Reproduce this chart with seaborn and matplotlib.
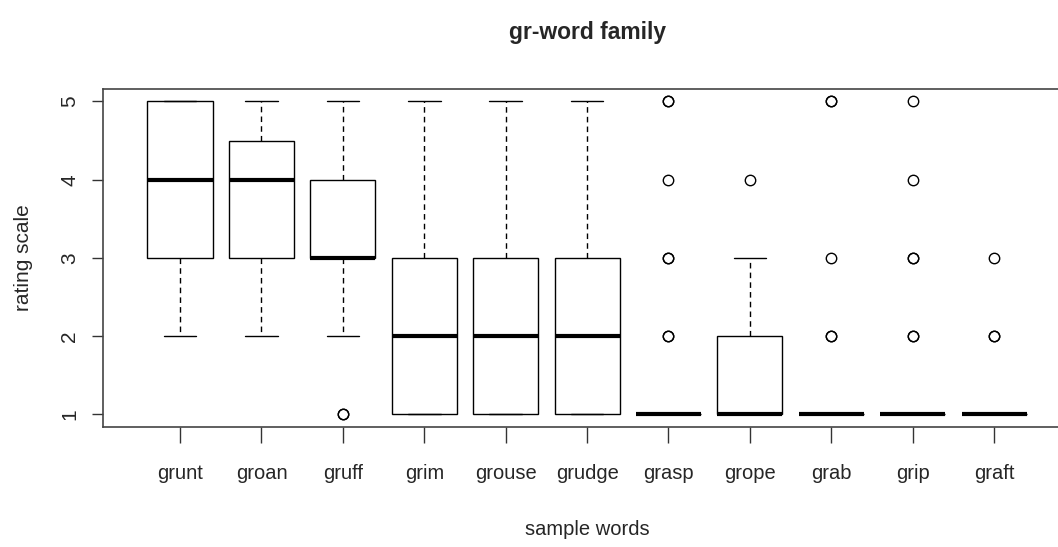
import pandas as pd
import numpy as np
import matplotlib
matplotlib.use('Agg')
import matplotlib.pyplot as plt
import seaborn as sns

words = ['grunt', 'groan', 'gruff', 'grim', 'grouse', 'grudge',
         'grasp', 'grope', 'grab', 'grip', 'graft']
grunt = [2, 3, 3, 4, 4, 4, 5, 5, 5]
groan = [2, 3, 3, 3, 4, 4, 4, 4, 5, 5, 5]
gruff = [1, 1, 2, 3, 3, 3, 3, 3, 3, 4, 4, 5, 5]
grim = [1, 1, 1, 1, 2, 2, 2, 3, 3, 4, 5]
grouse = [1, 1, 1, 1, 2, 2, 2, 3, 3, 4, 5]
grudge = [1, 1, 1, 1, 2, 2, 2, 3, 3, 4, 5]
grasp = [1] * 24 + [2, 2, 3, 3, 4, 5, 5]
grope = [1, 1, 1, 1, 1, 1, 1, 2, 2, 3, 4]
grab = [1] * 20 + [2, 2, 3, 5, 5]
grip = [1] * 20 + [2, 2, 3, 3, 4, 5]
graft = [1] * 16 + [2, 2, 3]

ratings = [grunt, groan, gruff, grim, grouse, grudge,
           grasp, grope, grab, grip, graft]

df = pd.DataFrame({
    'word': np.repeat(words, [len(r) for r in ratings]),
    'rating': np.concatenate(ratings),
})

sns.set_style('white')
plt.rcParams['font.family'] = ['Liberation Sans', 'DejaVu Sans']

fig = plt.figure(figsize=(10.58, 5.47), dpi=100)
ax = fig.add_axes([0.0974, 0.2194, 0.915, 0.618])

sns.boxplot(data=df, x='word', y='rating', order=words, ax=ax,
            width=0.8, color='white', linecolor='black', linewidth=1.0,
            whis=1.5,
            medianprops=dict(linewidth=3.0, color='black'),
            whiskerprops=dict(linestyle=(0, (4, 3)), linewidth=1.0),
            capprops=dict(linewidth=1.0),
            flierprops=dict(marker='o', markersize=7.5, markerfacecolor='none',
                            markeredgecolor='black', markeredgewidth=1.0))

ax.set_xlim(-0.946, 10.946)
ax.set_ylim(0.84, 5.16)
ax.set_yticks([1, 2, 3, 4, 5])
ax.set_yticklabels(['1', '2', '3', '4', '5'], rotation=90, va='center',
                   fontsize=15)
ax.set_xticks(range(len(words)))
ax.set_xticklabels(words, fontsize=14.5)

ax.tick_params(axis='both', direction='out', width=1,
               color='#333333', left=True, bottom=True)
ax.tick_params(axis='x', length=11.5, pad=15.5)
ax.tick_params(axis='y', length=8, pad=9)

for s in ax.spines.values():
    s.set_color('#444444')
    s.set_linewidth(1.2)

ax.set_xlabel('sample words', fontsize=14.5, labelpad=26)
ax.set_ylabel('rating scale', fontsize=15, labelpad=20)
fig.text(0.555, 0.94, 'gr-word family', fontsize=16.5,
         fontweight='bold', ha='center', va='center')

plt.savefig('out.png', dpi=100)
